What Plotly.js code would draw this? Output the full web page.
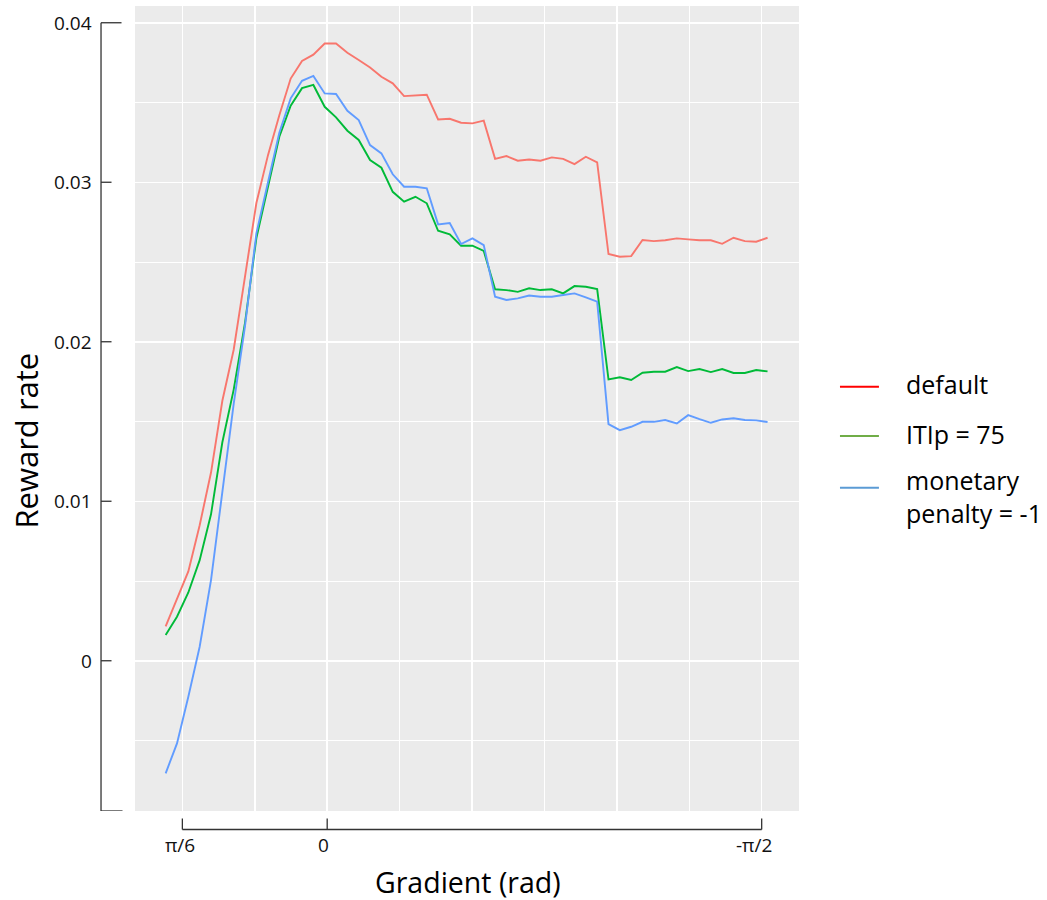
<!DOCTYPE html>
<html>
<head>
<meta charset="utf-8">
<script src="https://cdn.plot.ly/plotly-3.0.1.min.js"></script>
<style>html,body{margin:0;padding:0;background:#fff;}#chart{width:1047px;height:900px;}</style>
</head>
<body>
<div id="chart"></div>
<script>
// Gradient (rad)
var gradient = [0.584,0.543,0.502,0.461,0.420,0.379,0.338,0.297,0.256,0.214,
  0.173,0.132,0.091,0.050,0.009,-0.032,-0.073,-0.114,-0.155,-0.196,
  -0.237,-0.278,-0.319,-0.360,-0.401,-0.443,-0.484,-0.525,-0.566,-0.607,
  -0.648,-0.689,-0.730,-0.771,-0.812,-0.853,-0.894,-0.935,-0.976,-1.017,
  -1.058,-1.099,-1.140,-1.181,-1.222,-1.264,-1.305,-1.346,-1.387,-1.428,
  -1.469,-1.510,-1.551,-1.592];

var rateDefault = [0.00215,0.0039,0.0056,0.0085,0.0118,0.0163,0.0195,0.0241,0.0287,0.0317,
  0.0342,0.0365,0.0376,0.0380,0.0387,0.0387,0.03812,0.03766,0.0372,0.03661,
  0.0362,0.0354,0.03545,0.03549,0.03394,0.03398,0.03373,0.03369,0.03386,0.03147,
  0.03164,0.03135,0.03143,0.03135,0.03156,0.03147,0.03114,0.0316,0.03125,0.0255,
  0.02533,0.02537,0.02638,0.02631,0.02636,0.02648,0.02642,0.02636,0.02636,0.02614,
  0.02652,0.02631,0.02627,0.02652];

var rateITIp = [0.00161,0.00276,0.00428,0.00631,0.00918,0.0137,0.0170,0.0212,0.0265,0.0297,
  0.03285,0.0348,0.0359,0.0361,0.03473,0.03407,0.03323,0.03265,0.03139,0.03091,
  0.0294,0.02878,0.02909,0.02868,0.02696,0.02673,0.02602,0.02602,0.02569,0.02329,
  0.02324,0.02313,0.02335,0.02324,0.02329,0.02303,0.02349,0.02345,0.0233,0.01764,
  0.01777,0.0176,0.01806,0.01812,0.01812,0.01841,0.01816,0.01829,0.0181,0.01829,
  0.01804,0.01804,0.01823,0.01814];

var ratePenalty = [-0.00706,-0.00518,-0.00226,0.00088,0.00506,0.0107,0.0161,0.0210,0.0268,0.0300,
  0.0331,0.03526,0.03636,0.03667,0.03557,0.03553,0.03448,0.0339,0.03233,0.03181,
  0.0305,0.02972,0.02972,0.02962,0.02736,0.02744,0.02613,0.02648,0.02606,0.02282,
  0.02262,0.02272,0.0229,0.02282,0.02282,0.02293,0.02303,0.02278,0.02251,0.01484,
  0.01446,0.01467,0.01498,0.01498,0.01509,0.01488,0.0154,0.01515,0.01492,0.01513,
  0.0152,0.01509,0.01507,0.01497];

var seriesNames = ["default", "ITIp = 75", "monetary<br>penalty = -1"];
var seriesColors = ["#F8766D", "#00BA38", "#619CFF"];
var legendColors = ["#FF0000", "#70AD47", "#5B9BD5"];

var xGridVals = [Math.PI/6, Math.PI/12, 0, -Math.PI/12, -Math.PI/6, -Math.PI/4, -Math.PI/3, -5*Math.PI/12, -Math.PI/2];
var xTickVals = [Math.PI/6, 0, -Math.PI/2];
var xTickText = ["π/6", "0", "-π/2"];
var yTickVals = [0, 0.01, 0.02, 0.03, 0.04];
var yTickText = ["0", "0.01", "0.02", "0.03", "0.04"];

var yMin = -0.00942, yMax = 0.04105;
var font = "'Open Sans', 'Noto Sans', sans-serif";

// plot-area geometry in pixels (used to place bracket axes / legend keys)
var W = 1047, H = 900, mL = 134.5, mR = 248, mT = 6, mB = 89;
var pw = W - mL - mR, ph = H - mT - mB;
function px2paperX(px){ return (px - mL) / pw; }
function py2paperY(py){ return (H - mB - py) / ph; }

var allY = [rateDefault, rateITIp, ratePenalty];
var traces = allY.map(function(ys, k){
  return {x: gradient, y: ys, type: 'scatter', mode: 'lines', name: seriesNames[k],
    line: {color: seriesColors[k], width: 1.9}, showlegend: false, hoverinfo: 'skip'};
});

var axisColor = "#333333";
var aw = 1.3;
var shapes = [];
var yAxX = px2paperX(100.5);
// y bracket axis
shapes.push({type:'line', xref:'paper', x0:yAxX, x1:yAxX, yref:'y', y0:0.04, y1:yMin, line:{color:axisColor, width:aw}});
shapes.push({type:'line', xref:'paper', x0:yAxX, x1:px2paperX(121), yref:'y', y0:0.04, y1:0.04, line:{color:axisColor, width:aw}});
shapes.push({type:'line', xref:'paper', x0:yAxX, x1:px2paperX(122), yref:'y', y0:yMin, y1:yMin, line:{color:axisColor, width:aw}});
yTickVals.slice(0,4).forEach(function(v){
  shapes.push({type:'line', xref:'paper', x0:yAxX, x1:px2paperX(111), yref:'y', y0:v, y1:v, line:{color:axisColor, width:aw}});
});
// x bracket axis
var xAxY = py2paperY(829.5);
shapes.push({type:'line', yref:'paper', y0:xAxY, y1:xAxY, xref:'x', x0:Math.PI/6, x1:-Math.PI/2, line:{color:axisColor, width:aw}});
xTickVals.forEach(function(v){
  shapes.push({type:'line', yref:'paper', y0:xAxY, y1:py2paperY(818.5), xref:'x', x0:v, x1:v, line:{color:axisColor, width:aw}});
});
// legend keys
var legendY = [386.7, 436, 487.7];
legendY.forEach(function(py, k){
  shapes.push({type:'line', xref:'paper', x0:px2paperX(840), x1:px2paperX(879), yref:'paper', y0:py2paperY(py), y1:py2paperY(py), line:{color:legendColors[k], width:2}});
});

var annotations = [];
var xLabelShift = [-2.5, -3.5, -8];
xTickVals.forEach(function(v, k){
  annotations.push({xref:'x', x:v, yref:'paper', y:py2paperY(845), yanchor:'middle', xanchor:'center', xshift:xLabelShift[k], text:xTickText[k], showarrow:false, font:{family:font, size:19, color:'#111'}});
});
yTickVals.forEach(function(v, k){
  annotations.push({xref:'paper', x:px2paperX(93), xanchor:'right', yref:'y', y:v, yanchor:'middle', text:yTickText[k], showarrow:false, font:{family:font, size:19, color:'#111'}});
});
annotations.push({xref:'paper', x:px2paperX(468), xanchor:'center', yref:'paper', y:py2paperY(882), yanchor:'middle', text:'Gradient (rad)', showarrow:false, font:{family:font, size:28.5, color:'#000'}});
annotations.push({xref:'paper', x:px2paperX(25), xanchor:'center', yref:'paper', y:py2paperY(441), yanchor:'middle', textangle:-90, text:'Reward rate', showarrow:false, font:{family:font, size:31, color:'#000'}});
var legendTextY = [384, 434, 496];
seriesNames.forEach(function(n, k){
  annotations.push({xref:'paper', x:px2paperX(904), xanchor:'left', yref:'paper', y:py2paperY(legendTextY[k]), yanchor:'middle', align:'left', text:n, showarrow:false, font:{family:font, size:25, color:'#000'}});
});

var layout = {
  width: W, height: H,
  margin: {l:mL, r:mR, t:mT, b:mB, pad:0},
  paper_bgcolor: '#ffffff', plot_bgcolor: '#EBEBEB',
  showlegend: false,
  xaxis: {range:[0.6948, -1.7057], tickmode:'array', tickvals:xGridVals, showticklabels:false, ticks:'',
    showgrid:true, gridcolor:'#ffffff', gridwidth:1.5, zeroline:false, showline:false, fixedrange:true},
  yaxis: {range:[yMin, yMax], tickmode:'array', tickvals:yTickVals, showticklabels:false, ticks:'',
    showgrid:true, gridcolor:'#ffffff', gridwidth:1.5, zeroline:false, showline:false, fixedrange:true,
    minor:{tickmode:'array', tickvals:[-0.005,0.005,0.015,0.025,0.035], showgrid:true, gridcolor:'#ffffff', gridwidth:1, ticks:''}},
  shapes: shapes,
  annotations: annotations
};

Plotly.newPlot('chart', traces, layout, {displayModeBar:false, staticPlot:true});
</script>
</body>
</html>
